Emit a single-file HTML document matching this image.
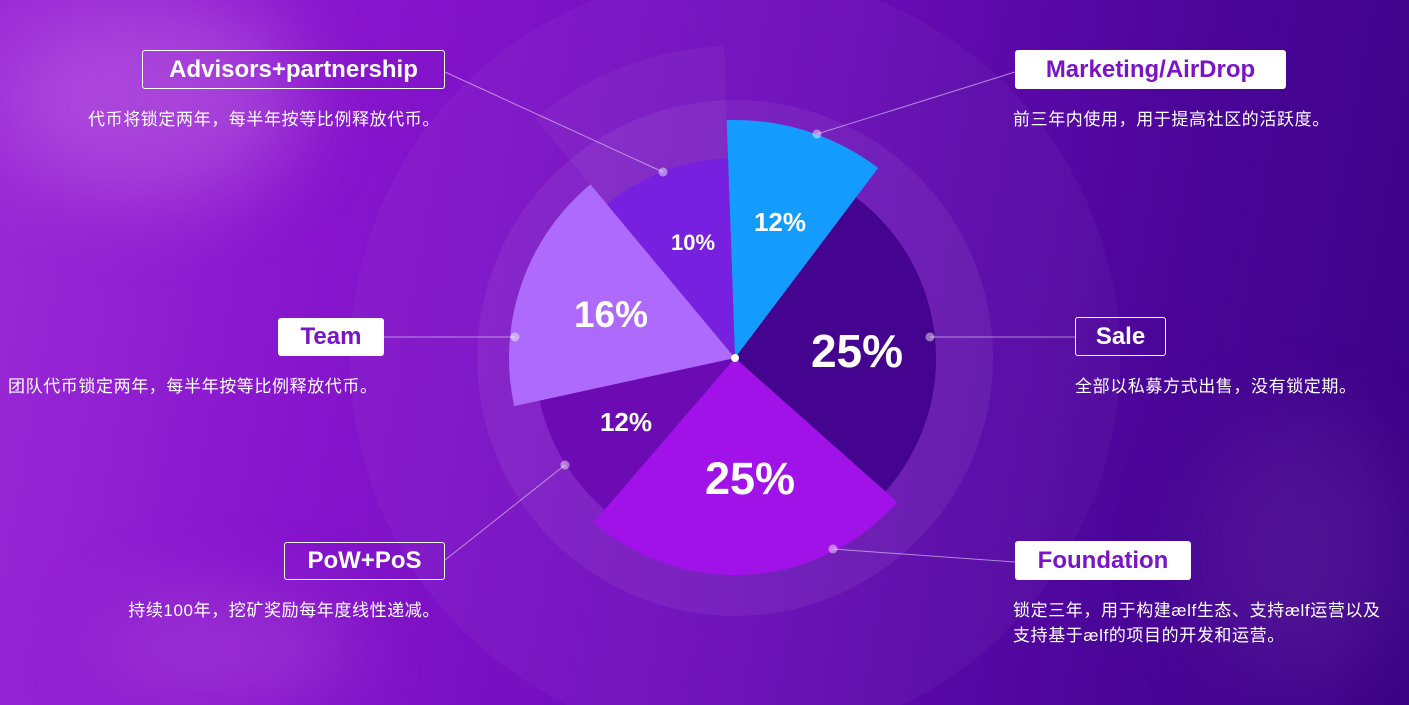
<!DOCTYPE html>
<html><head><meta charset="utf-8"><style>
html,body{margin:0;padding:0;width:1409px;height:705px;overflow:hidden}
#w{position:relative;width:1409px;height:705px;overflow:hidden;font-family:"Liberation Sans","Noto Sans CJK SC",sans-serif;
background:linear-gradient(100deg,#9a2bd6 0%,#8614cc 25%,#6a0cb8 55%,#4a0598 80%,#3b0385 100%);}
.glow{position:absolute;border-radius:50%;filter:blur(40px)}
.box{position:absolute;box-sizing:border-box;border:1px solid #fff;border-radius:3px;font-weight:bold;font-size:24px;display:flex;align-items:center;justify-content:center;color:#fff}
.fill{background:#fff;color:#7a14c8}
.d{position:absolute;color:#fff;font-size:17px;letter-spacing:0.6px;line-height:25px;white-space:nowrap}
svg{position:absolute;left:0;top:0}
</style></head><body><div id="w">
<div class="glow" style="left:0px;top:0px;width:300px;height:200px;background:rgba(200,110,230,0.45)"></div>
<div class="glow" style="left:100px;top:600px;width:260px;height:100px;background:rgba(190,100,220,0.35)"></div>
<div class="glow" style="left:1200px;top:420px;width:200px;height:260px;background:rgba(100,40,160,0.4)"></div>
<svg width="1409" height="705">
<circle cx="735" cy="358" r="385" fill="rgba(255,255,255,0.035)"/>
<path d="M735 358 L535.3 118.4 A312 312 0 0 1 724.1 46.2 Z" fill="rgba(255,255,255,0.04)"/>
<circle cx="735" cy="358" r="258" fill="rgba(255,255,255,0.06)"/>
<path d="M735 358 L726.7 120.1 A238 238 0 0 1 878.2 167.9 Z" fill="#139cfe"/>
<path d="M735 358 L856 197.5 A201 201 0 0 1 885.4 491.5 Z" fill="#45048f"/>
<path d="M735 358 L897.3 502.1 A217 217 0 0 1 593.5 522.5 Z" fill="#a012e8"/>
<path d="M735 358 L604.6 509.6 A200 200 0 0 1 539.6 400.6 Z" fill="#6c0ab4"/>
<path d="M735 358 L514.2 406.1 A226 226 0 0 1 590.4 184.4 Z" fill="#ae6afd"/>
<path d="M735 358 L607 204.4 A200 200 0 0 1 728 158.2 Z" fill="#7720e0"/>
<circle cx="735" cy="358" r="4" fill="#fff"/>
<g stroke="rgba(255,255,255,0.5)" stroke-width="1">
<line x1="445" y1="72" x2="663" y2="172"/><line x1="1015" y1="72" x2="817" y2="134"/>
<line x1="384" y1="337" x2="515" y2="337"/><line x1="1075" y1="337" x2="930" y2="337"/>
<line x1="445" y1="560" x2="565" y2="465"/><line x1="1015" y1="562" x2="833" y2="549"/>
</g>
<g fill="rgba(255,255,255,0.45)">
<circle cx="663" cy="172" r="4.5"/><circle cx="817" cy="134" r="4.5"/><circle cx="515" cy="337" r="4.5"/>
<circle cx="930" cy="337" r="4.5"/><circle cx="565" cy="465" r="4.5"/><circle cx="833" cy="549" r="4.5"/>
</g>
<g fill="#fff" font-family="Liberation Sans,sans-serif" font-weight="bold" text-anchor="middle">
<text x="693" y="250" font-size="22">10%</text>
<text x="780" y="231" font-size="26">12%</text>
<text x="611" y="327" font-size="37">16%</text>
<text x="857" y="367" font-size="46">25%</text>
<text x="626" y="431" font-size="26">12%</text>
<text x="750" y="494" font-size="45">25%</text>
</g>
</svg>
<div class="box" style="left:142px;top:50px;width:303px;height:39px">Advisors+partnership</div>
<div class="box fill" style="left:1015px;top:50px;width:271px;height:39px">Marketing/AirDrop</div>
<div class="box fill" style="left:278px;top:318px;width:106px;height:38px">Team</div>
<div class="box" style="left:1075px;top:317px;width:91px;height:39px">Sale</div>
<div class="box" style="left:284px;top:542px;width:161px;height:38px">PoW+PoS</div>
<div class="box fill" style="left:1015px;top:541px;width:176px;height:39px">Foundation</div>
<div class="d" style="right:969px;top:107px">代币将锁定两年，每半年按等比例释放代币。</div>
<div class="d" style="left:1013px;top:107px">前三年内使用，用于提高社区的活跃度。</div>
<div class="d" style="left:8px;top:374px">团队代币锁定两年，每半年按等比例释放代币。</div>
<div class="d" style="left:1075px;top:374px">全部以私募方式出售，没有锁定期。</div>
<div class="d" style="right:969px;top:598px">持续100年，挖矿奖励每年度线性递减。</div>
<div class="d" style="left:1013px;top:598px">锁定三年，用于构建ælf生态、支持ælf运营以及<br>支持基于ælf的项目的开发和运营。</div>
</div></body></html>
